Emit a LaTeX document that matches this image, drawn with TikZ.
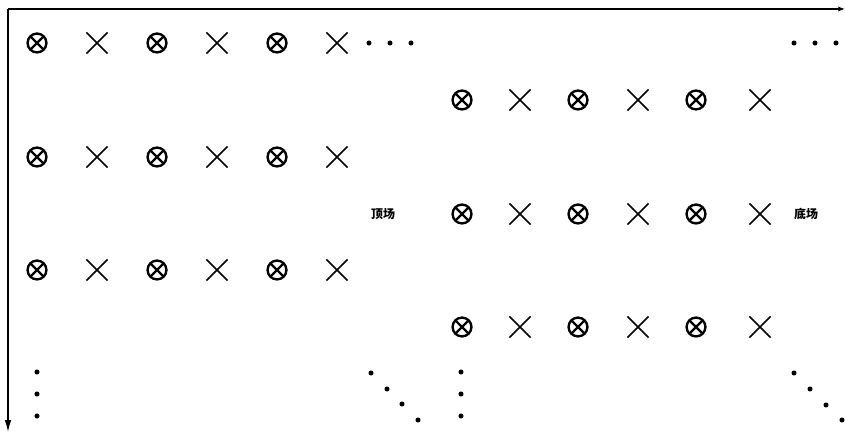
\documentclass[tikz,border=0pt]{standalone}
\usepackage{fontspec}
\newfontfamily\cjk{Noto Sans CJK SC}
\usetikzlibrary{shapes.misc, arrows.meta}

\begin{document}
\begin{tikzpicture}[x=0.0265cm, y=-0.0265cm]
\tikzset{
  ring/.style={circle, draw, line width=1.8pt, minimum size=0.5cm, inner sep=0pt,
    path picture={\draw[line width=1.8pt] (path picture bounding box.north west) -- (path picture bounding box.south east)
      (path picture bounding box.north east) -- (path picture bounding box.south west);}},
  cross/.style={cross out, draw, line width=1.2pt, minimum size=0.52cm, inner sep=0pt},
  dot/.style={circle, fill, inner sep=0pt, minimum size=3.8pt},
  lbl/.style={font=\cjk\bfseries\fontsize{9}{9}\selectfont}
}
\useasboundingbox (0,0) rectangle (845,433);
% axes
\coordinate (O) at (8,9);
\coordinate (xend) at (845,9);
\coordinate (yend) at (8,432);
\draw[line width=1pt, -{Latex[length=5pt,width=4pt]}] (O) -- (xend);
\draw[line width=1pt, -{Latex[length=9pt,width=5pt]}] (O) -- (yend);
% top field rows
\foreach \r/\y in {1/43, 2/157, 3/270} {
  \foreach \c/\x in {1/37, 2/157, 3/277}
    \node[ring] (T\r\c) at (\x,\y) {};
  \foreach \c/\x in {1/97, 2/217, 3/337}
    \node[cross] (TX\r\c) at (\x,\y) {};
}
% bottom field rows
\foreach \r/\y in {1/100, 2/214, 3/327} {
  \foreach \c/\x in {1/462, 2/578, 3/696}
    \node[ring] (B\r\c) at (\x,\y) {};
  \foreach \c/\x in {1/520, 2/638, 3/760}
    \node[cross] (BX\r\c) at (\x,\y) {};
}
% dots
\foreach \i/\x in {1/369, 2/390, 3/411} \node[dot] (ha\i) at (\x,43) {};
\foreach \i/\x in {1/794, 2/815, 3/836} \node[dot] (hb\i) at (\x,43) {};
\foreach \i/\y in {1/372, 2/394, 3/416} {
  \node[dot] (va\i) at (37,\y) {};
  \node[dot] (vb\i) at (461,\y) {};
}
\foreach \i/\x/\y in {1/371/373, 2/387/389, 3/402/404, 4/418/420} \node[dot] (da\i) at (\x,\y) {};
\foreach \i/\x/\y in {1/794/373, 2/810/389, 3/826/405, 4/842/420} \node[dot] (db\i) at (\x,\y) {};
% labels
\node[lbl] (top) at (383,214) {顶场};
\node[lbl] (bot) at (806,214) {底场};
\end{tikzpicture}
\end{document}
